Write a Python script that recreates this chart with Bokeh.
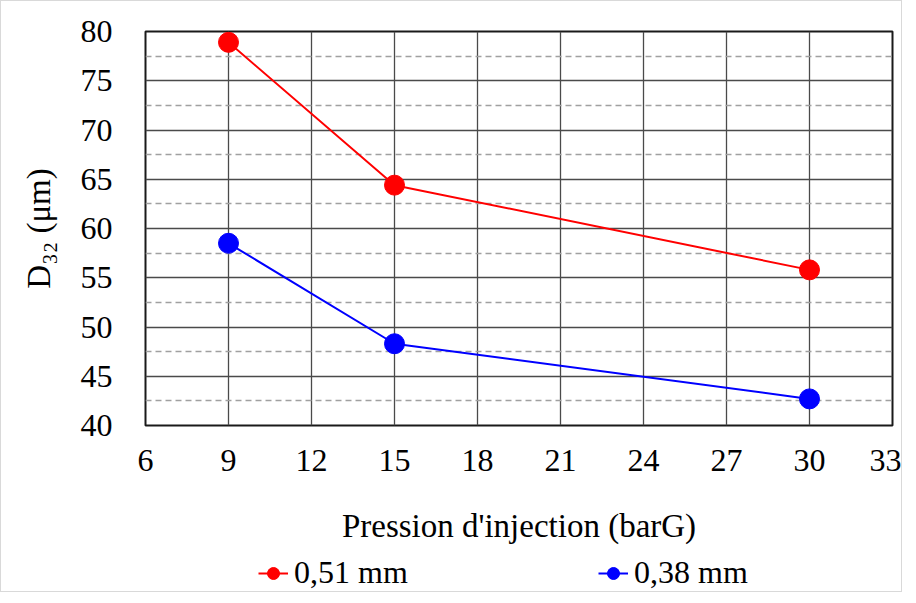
from bokeh.plotting import figure
from bokeh.layouts import column
from bokeh.models import Range1d, FixedTicker, Legend, LegendItem
from bokeh.embed import file_html
from bokeh.resources import INLINE

pressure = [9, 15, 30]
d32_051 = [78.9, 64.4, 55.8]
d32_038 = [58.5, 48.3, 42.7]
series_labels = ["0,51 mm", "0,38 mm"]
series_colors = ["#ff0000", "#0000ff"]
x_ticks = [6, 9, 12, 15, 18, 21, 24, 27, 30, 33]
y_ticks = [40, 45, 50, 55, 60, 65, 70, 75, 80]
y_minor = [42.5, 47.5, 52.5, 57.5, 62.5, 67.5, 72.5, 77.5]

FONT = "Liberation Serif"

p = figure(frame_width=747, frame_height=394, output_backend="svg", toolbar_location=None,
           x_range=Range1d(6, 33), y_range=Range1d(40, 80),
           min_border_left=144, min_border_right=9, min_border_top=30,
           min_border_bottom=0)

p.xaxis.ticker = FixedTicker(ticks=x_ticks)
p.yaxis.ticker = FixedTicker(ticks=y_ticks, minor_ticks=y_minor)
p.xgrid.ticker = FixedTicker(ticks=x_ticks)
p.ygrid.ticker = FixedTicker(ticks=y_ticks, minor_ticks=y_minor)

for ax in (p.xaxis, p.yaxis):
    ax.axis_line_color = None
    ax.major_tick_line_color = None
    ax.minor_tick_line_color = None
    ax.major_label_text_font = FONT
    ax.major_label_text_font_size = "32px"
    ax.major_label_text_color = "black"
    ax.axis_label_text_font = FONT
    ax.axis_label_text_font_size = "33px"
    ax.axis_label_text_font_style = "normal"
    ax.axis_label_text_color = "black"

p.xaxis.axis_label = "Pression d'injection (barG)"
p.yaxis.axis_label = "D\u2083\u2082 (\u03bcm)"
p.xaxis.major_label_standoff = 18
p.yaxis.major_label_standoff = 27
p.xaxis.axis_label_standoff = 34
p.yaxis.axis_label_standoff = 21

p.xgrid.grid_line_color = "#4a4a4a"
p.ygrid.grid_line_color = "#4a4a4a"
p.xgrid.grid_line_width = 1.3
p.ygrid.grid_line_width = 1.3
p.ygrid.minor_grid_line_color = "#a0a0a0"
p.ygrid.minor_grid_line_dash = "6 4"
p.ygrid.minor_grid_line_width = 1.3

p.outline_line_color = "#1a1a1a"
p.outline_line_width = 2

series = [d32_051, d32_038]
for vals, col in zip(series, series_colors):
    p.line(pressure, vals, line_color=col, line_width=2)
    p.scatter(pressure, vals, size=20, fill_color=col, line_color=col)

# legend strip below the chart (same series, drawn outside its view so only the legend shows)
lg = figure(width=900, height=45, output_backend="svg", toolbar_location=None,
            x_range=Range1d(0, 1), y_range=Range1d(0, 1),
            min_border_left=0, min_border_right=0, min_border_top=0, min_border_bottom=0)
lg.axis.visible = False
lg.grid.visible = False
lg.outline_line_color = None
items = []
for lab, vals, col in zip(series_labels, series, series_colors):
    rl = lg.line(pressure, vals, line_color=col, line_width=2)
    rs = lg.scatter(pressure, vals, size=16, fill_color=col, line_color=col)
    items.append(LegendItem(label=lab, renderers=[rl, rs]))
legend = Legend(items=items, orientation="horizontal", location=(113, 0),
                label_text_font=FONT, label_text_font_size="32px",
                label_text_color="black",
                spacing=174, glyph_width=30, glyph_height=34, label_width=130,
                border_line_color=None, background_fill_alpha=0,
                padding=0, margin=0, label_standoff=6)
lg.add_layout(legend, "center")

layout = column(p, lg, spacing=0, styles={"border": "1px solid #d9d9d9"})

open("out.html", "w").write(file_html(layout, INLINE))
